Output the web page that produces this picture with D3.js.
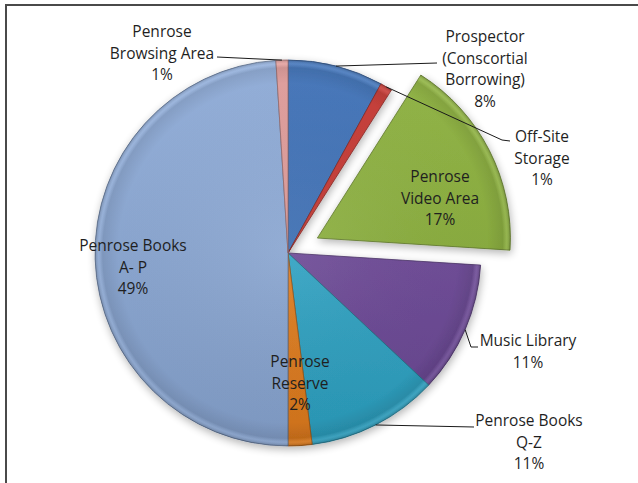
<!DOCTYPE html>
<html>
<head>
<meta charset="utf-8">
<script src="https://cdn.jsdelivr.net/npm/d3@7"></script>
<style>
  body { margin: 0; background: #fff; }
  svg { display: block; }
  .lbl { font-family: "Open Sans", sans-serif; font-size: 15.5px; fill: #1f1f1f; }
</style>
</head>
<body>
<div class="pieChart"></div>
<script>
const categories = [
  "Prospector (Conscortial Borrowing)",
  "Off-Site Storage",
  "Penrose Video Area",
  "Music Library",
  "Penrose Books Q-Z",
  "Penrose Reserve",
  "Penrose Books A- P",
  "Penrose Browsing Area",
];
const shares = [8, 1, 17, 11, 11, 2, 49, 1];
const labelLines = [
  ["Prospector", "(Conscortial", "Borrowing)", "8%"],
  ["Off-Site", "Storage", "1%"],
  ["Penrose", "Video Area", "17%"],
  ["Music Library", "11%"],
  ["Penrose Books", "Q-Z", "11%"],
  ["Penrose", "Reserve", "2%"],
  ["Penrose Books", "A- P", "49%"],
  ["Penrose", "Browsing Area", "1%"],
];
const exploded = ["Penrose Video Area"];

const colors = ["#3a6fb8", "#c7332d", "#8cb23a", "#6f4a9b", "#2fa8ca", "#e8801e", "#8dabd9", "#e29b99"];

const width = 638, height = 483;
const cx = 288, cy = 253, radius = 193, explode = 33;
const lineH = 21.5;

// label layout: text centre (first line) and leader line end
const layout = {
  "Prospector (Conscortial Borrowing)": { x: 485, y: 37, leader: [[437, 63]] },
  "Off-Site Storage": { x: 542, y: 137, leader: [[502, 140], [510, 141]] },
  "Penrose Video Area": { x: 440, y: 177 },
  "Music Library": { x: 528, y: 341, leader: [[471, 347], [478, 347]] },
  "Penrose Books Q-Z": { x: 529, y: 421, leader: [[474, 427]] },
  "Penrose Reserve": { x: 300, y: 362 },
  "Penrose Books A- P": { x: 133, y: 246 },
  "Penrose Browsing Area": { x: 162, y: 32, leader: [[217, 57]] },
};

const svg = d3.select(".pieChart").append("svg")
  .attr("width", width).attr("height", height);

// frame (left and top edge visible)
svg.append("path")
  .attr("d", `M6,${height} L6,5 L${width},5`)
  .attr("fill", "none").attr("stroke", "#4a4a4a").attr("stroke-width", 2);

const defs = svg.append("defs");
const shadow = defs.append("filter").attr("id", "shadow")
  .attr("x", "-20%").attr("y", "-20%").attr("width", "140%").attr("height", "140%");
shadow.append("feGaussianBlur").attr("in", "SourceAlpha").attr("stdDeviation", 4);
shadow.append("feOffset").attr("dx", 1).attr("dy", 3).attr("result", "b");
shadow.append("feComponentTransfer").append("feFuncA").attr("type", "linear").attr("slope", 0.3);
const merge = shadow.append("feMerge");
merge.append("feMergeNode");
merge.append("feMergeNode").attr("in", "SourceGraphic");

const bevel = defs.append("radialGradient").attr("id", "bevel")
  .attr("gradientUnits", "userSpaceOnUse")
  .attr("cx", 0).attr("cy", 0).attr("r", radius);
bevel.append("stop").attr("offset", "0%").attr("stop-color", "#fff").attr("stop-opacity", 0.06);
bevel.append("stop").attr("offset", "88%").attr("stop-color", "#000").attr("stop-opacity", 0.02);
bevel.append("stop").attr("offset", "96%").attr("stop-color", "#000").attr("stop-opacity", 0.1);
bevel.append("stop").attr("offset", "98%").attr("stop-color", "#fff").attr("stop-opacity", 0.08);
bevel.append("stop").attr("offset", "100%").attr("stop-color", "#000").attr("stop-opacity", 0.18);

const vshade = defs.append("linearGradient").attr("id", "vshade")
  .attr("gradientUnits", "userSpaceOnUse")
  .attr("x1", 0).attr("y1", -radius).attr("x2", 0).attr("y2", radius);
vshade.append("stop").attr("offset", "0%").attr("stop-color", "#fff").attr("stop-opacity", 0.08);
vshade.append("stop").attr("offset", "100%").attr("stop-color", "#000").attr("stop-opacity", 0.1);

const color = d3.scaleOrdinal().domain(categories).range(colors);

const pie = d3.pie().sort(null).value((d) => d.value);
const arcs = pie(categories.map((c, i) => ({ name: c, value: shares[i], lines: labelLines[i] })));
const arc = d3.arc().innerRadius(0).outerRadius(radius);

function offset(d) {
  if (!exploded.includes(d.data.name)) return [0, 0];
  const a = (d.startAngle + d.endAngle) / 2;
  return [Math.sin(a) * explode, -Math.cos(a) * explode];
}

const g = svg.append("g")
  .attr("transform", `translate(${cx},${cy})`)
  .attr("filter", "url(#shadow)");

const slice = g.selectAll("g.slice").data(arcs).enter().append("g")
  .attr("class", "slice")
  .attr("transform", (d) => `translate(${offset(d)})`);

slice.append("path").attr("d", arc)
  .attr("fill", (d) => color(d.data.name))
  .attr("stroke", (d) => d3.color(color(d.data.name)).darker(1.2))
  .attr("stroke-width", 0.8);
slice.append("path").attr("d", arc).attr("fill", "url(#vshade)");
slice.append("path").attr("d", arc).attr("fill", "url(#bevel)");

// leader lines
arcs.forEach((d) => {
  const L = layout[d.data.name];
  if (!L.leader) return;
  const a = (d.startAngle + d.endAngle) / 2;
  const [ox, oy] = offset(d);
  const start = [cx + ox + Math.sin(a) * radius, cy + oy - Math.cos(a) * radius];
  svg.append("path")
    .attr("d", d3.line()([start, ...L.leader]))
    .attr("fill", "none").attr("stroke", "#1a1a1a").attr("stroke-width", 1);
});

// labels
arcs.forEach((d) => {
  const L = layout[d.data.name];
  const t = svg.append("text").attr("class", "lbl").attr("text-anchor", "middle");
  d.data.lines.forEach((line, i) => {
    t.append("tspan").attr("x", L.x).attr("y", L.y + i * lineH)
      .attr("dy", "0.35em").text(line);
  });
});
</script>
</body>
</html>
